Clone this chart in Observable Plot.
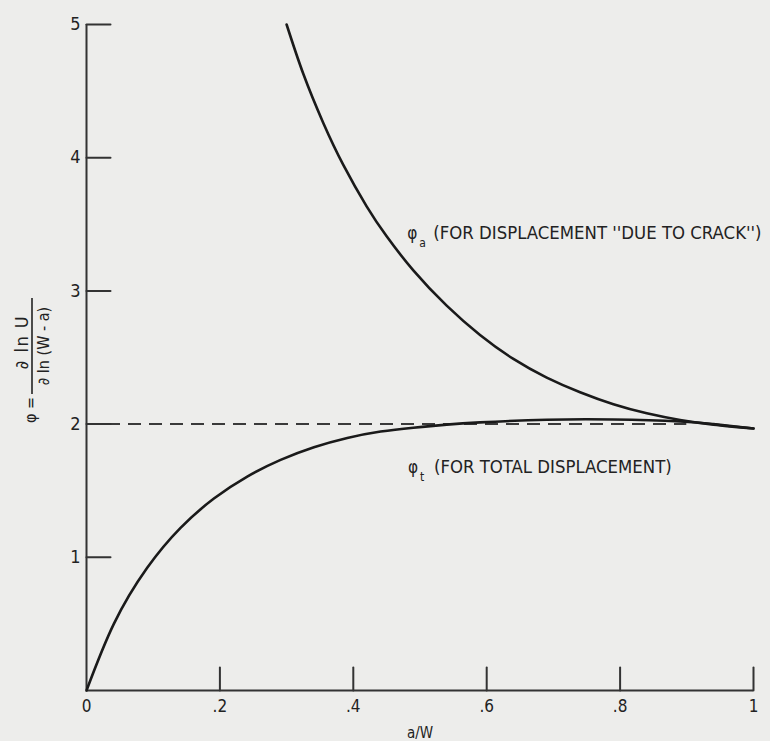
<!DOCTYPE html>
<html><head><meta charset="utf-8">
<script src="https://cdn.jsdelivr.net/npm/d3@7"></script>
<script src="https://cdn.jsdelivr.net/npm/@observablehq/plot@0.6"></script>
<style>
html,body{margin:0;padding:0;background:#ededeb;}
</style></head><body><div id="chart"></div>
<script>
// phi_a curve (displacement "due to crack")
const phiAX = [0.300, 0.325, 0.355, 0.385, 0.420, 0.450, 0.490, 0.540, 0.590, 0.640, 0.690, 0.740, 0.790, 0.840, 0.890, 0.940, 1.000];
const phiAY = [5.00, 4.63, 4.261, 3.946, 3.635, 3.41, 3.154, 2.889, 2.669, 2.489, 2.349, 2.239, 2.149, 2.081, 2.031, 1.996, 1.967];
// phi_t curve (total displacement)
const phiTX = [0.000, 0.041, 0.091, 0.141, 0.191, 0.241, 0.291, 0.341, 0.391, 0.441, 0.490, 0.540, 0.590, 0.690, 0.790, 0.890, 0.940, 1.000];
const phiTY = [0.00, 0.50, 0.921, 1.221, 1.441, 1.606, 1.731, 1.826, 1.896, 1.944, 1.973, 1.996, 2.013, 2.033, 2.035, 2.02, 2.00, 1.967];
// dashed reference level
const refLevel = [2];
const refStart = 0, refEnd = 0.9;
// axes
const xTickValues = [0, 0.2, 0.4, 0.6, 0.8, 1];
const xTickLabels = ["0", ".2", ".4", ".6", ".8", "1"];
const xTickMarks = [0.2, 0.4, 0.6, 0.8, 1];
const yTickValues = [1, 2, 3, 4, 5];
const yTickLabels = ["1", "2", "3", "4", "5"];
const xTitle = "a/W";
// curve annotations
const labelIdx = [0, 1];
const labelX = [0.481, 0.482];
const labelY = [3.39, 1.63];
const labelSub = ["a", "t"];
const labelText = ["(FOR DISPLACEMENT ''DUE TO CRACK'')", "(FOR TOTAL DISPLACEMENT)"];

const FONT = "'Liberation Sans Narrow', 'DejaVu Sans Condensed', 'Liberation Sans', sans-serif";
const tickShape = {draw(ctx, l) { ctx.moveTo(0, 0); ctx.lineTo(0, -l); }};
const ink = "#222";

const plot = Plot.plot({
  width: 770, height: 741,
  marginLeft: 86, marginRight: 17, marginTop: 24, marginBottom: 51,
  x: {domain: [0, 1]},
  y: {domain: [0, 5]},
  style: {background: "#ededeb", fontFamily: FONT, color: ink},
  marks: [
    Plot.ruleY(refLevel, {x1: refStart, x2: refEnd, stroke: "#3a3a3a", strokeWidth: 2, strokeDasharray: "13,8"}),
    Plot.ruleX([0], {stroke: "#333", strokeWidth: 2}),
    Plot.ruleY([0], {stroke: "#333", strokeWidth: 2}),
    Plot.vector(xTickMarks, {x: d => d, frameAnchor: "bottom", rotate: 0, length: 23, anchor: "start", shape: tickShape, stroke: "#333", strokeWidth: 2}),
    Plot.vector(yTickValues, {y: d => d, frameAnchor: "left", rotate: 90, length: 24, anchor: "start", shape: tickShape, stroke: "#333", strokeWidth: 2}),
    Plot.axisX({ticks: xTickValues, tickFormat: d => xTickLabels[xTickValues.indexOf(d)], tickSize: 0, tickPadding: 9, fontSize: 17, label: null}),
    Plot.axisY({ticks: yTickValues, tickFormat: d => yTickLabels[yTickValues.indexOf(d)], tickSize: 0, tickPadding: 6, fontSize: 18, label: null}),
    Plot.line(phiAX, {x: phiAX, y: phiAY, curve: "natural", stroke: "#1a1a1a", strokeWidth: 2.6}),
    Plot.line(phiTX, {x: phiTX, y: phiTY, curve: "natural", stroke: "#1a1a1a", strokeWidth: 2.6}),
    Plot.text(labelIdx, {x: i => labelX[i], y: i => labelY[i], text: () => "φ", textAnchor: "start", lineAnchor: "bottom", fontSize: 17, fill: ink}),
    Plot.text(labelIdx, {x: i => labelX[i], y: i => labelY[i], text: i => labelSub[i], textAnchor: "start", lineAnchor: "bottom", dx: 12, dy: 8, fontSize: 12, fill: ink}),
    Plot.text(labelIdx, {x: i => labelX[i], y: i => labelY[i], text: i => labelText[i], textAnchor: "start", lineAnchor: "bottom", dx: 26, fontSize: 18.4, fill: ink}),
    Plot.text([xTitle], {frameAnchor: "bottom", dy: 47, lineAnchor: "bottom", fontSize: 15, fill: ink})
  ]
});

// rotated y-axis title: φ = ∂ ln U / ∂ ln (W - a)
const svg = d3.select(plot);
const g = svg.append("g").attr("transform", "translate(32,346) rotate(-90)")
  .attr("fill", ink).attr("font-family", FONT).attr("font-size", 16);
g.append("text").attr("x", -64).attr("y", 4).attr("text-anchor", "middle").text("φ =");
g.append("line").attr("x1", -48).attr("x2", 48).attr("y1", 0).attr("y2", 0).attr("stroke", ink).attr("stroke-width", 1.6);
g.append("text").attr("x", 4).attr("y", -4).attr("text-anchor", "middle").attr("letter-spacing", 1.5).attr("font-size", 18).text("∂ ln U");
g.append("text").attr("x", 0).attr("y", 17).attr("text-anchor", "middle").text("∂ ln (W - a)");

document.getElementById("chart").appendChild(plot);
</script>
</body></html>
